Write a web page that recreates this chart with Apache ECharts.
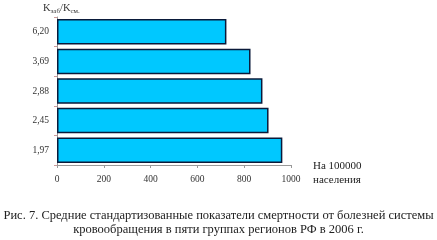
<!DOCTYPE html>
<html><head><meta charset="utf-8">
<script src="https://cdn.jsdelivr.net/npm/echarts@6/dist/echarts.min.js"></script>
<style>html,body{margin:0;padding:0;background:#fff}#c{width:437px;height:240px}</style>
</head><body><div id="c"></div>
<script>
const categories = ['1,97', '2,45', '2,88', '3,69', '6,20'];
const values = [963, 904, 878, 827, 724];
const xTicks = [0, 200, 400, 600, 800, 1000];
const captionLines = ['Рис. 7. Средние стандартизованные показатели смертности от болезней системы', 'кровообращения в пяти группах регионов РФ в 2006 г.'];
const unitLines = ['На 100000', 'населения'];

const F = 'Liberation Serif';
const chart = echarts.init(document.getElementById('c'));
chart.setOption({
  animation: false,
  backgroundColor: '#fff',
  grid: { left: 57, right: 146, top: 17, bottom: 75 },
  xAxis: {
    type: 'value', min: xTicks[0], max: xTicks[xTicks.length - 1], interval: 200,
    axisLine: { show: true, lineStyle: { color: '#999', width: 1 } },
    axisTick: { show: true, length: 3, lineStyle: { color: '#999' } },
    splitLine: { show: false },
    axisLabel: { fontFamily: F, fontSize: 9.5, color: '#333', margin: 9, formatter: v => String(v) }
  },
  yAxis: {
    type: 'category', data: categories,
    axisLine: { show: true, lineStyle: { color: '#999' } },
    axisTick: { show: true, length: 3, lineStyle: { color: '#c99' } },
    axisLabel: { fontFamily: F, fontSize: 9.5, color: '#333', margin: 8 }
  },
  series: [{
    type: 'bar', data: values, barCategoryGap: '14%',
    itemStyle: { color: '#00C8FF', borderColor: '#0a1a3a', borderWidth: 1.5 }
  }],
  graphic: [
    { type: 'text', left: 43, top: 3, style: { text: '{m|K}{s|заб}{m|/K}{s|см.}', font: '10px ' + F,
        rich: { m: { fontSize: 10.5, fontFamily: F, fill: '#333' }, s: { fontSize: 7, fontFamily: F, fill: '#333', padding: [5, 0, 0, 0] } } } },
    { type: 'text', left: 313, top: 161, style: { text: unitLines[0], font: '11px ' + F, fill: '#222' } },
    { type: 'text', left: 313, top: 175, style: { text: unitLines[1], font: '11px ' + F, fill: '#222' } },
    { type: 'text', left: 'center', top: 209, style: { text: captionLines[0], font: '12.5px ' + F, fill: '#222' } },
    { type: 'text', left: 'center', top: 223, style: { text: captionLines[1], font: '12.5px ' + F, fill: '#222' } }
  ]
});
</script></body></html>
